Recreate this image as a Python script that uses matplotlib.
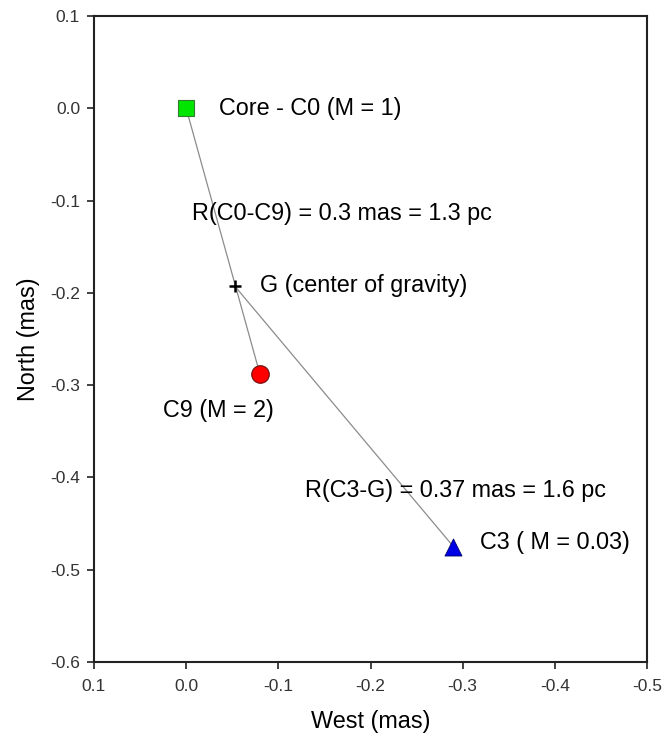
import matplotlib
matplotlib.use("Agg")
import matplotlib.pyplot as plt

plt.rcParams['font.family'] = ['Liberation Sans', 'DejaVu Sans']

# Data (mas)
core_x, core_y = [0.0], [0.0]
g_x, g_y = [-0.053], [-0.193]
c9_x, c9_y = [-0.080], [-0.288]
c3_x, c3_y = [-0.290], [-0.475]

xticks = [0.1, 0.0, -0.1, -0.2, -0.3, -0.4, -0.5]
yticks = [0.1, 0.0, -0.1, -0.2, -0.3, -0.4, -0.5, -0.6]

fig = plt.figure(figsize=(6.64, 7.33), dpi=100)
ax = fig.add_axes([94/664, 1-662/733, (647-94)/664, (662-16)/733])

# connecting lines
ax.plot([core_x[0], c9_x[0]], [core_y[0], c9_y[0]], color='#8c8c8c', lw=0.9, zorder=1)
ax.plot([g_x[0], c3_x[0]], [g_y[0], c3_y[0]], color='#8c8c8c', lw=0.9, zorder=1)

ax.scatter(core_x, core_y, marker='s', s=120, color='#00e600', edgecolors='#2f7f2f', linewidths=0.8, zorder=3)
ax.scatter(c9_x, c9_y, marker='o', s=160, color='#ff0000', edgecolors='#6b1010', linewidths=0.8, zorder=3)
ax.scatter(c3_x, c3_y, marker='^', s=150, color='#0000e6', edgecolors='#00006b', linewidths=0.6, zorder=3)
ax.scatter(g_x, g_y, marker='+', s=70, color='black', linewidths=1.8, zorder=3)

fs = 16.8
ax.text(-0.036, 0.0, 'Core - C0 (M = 1)', fontsize=fs, va='center', ha='left')
ax.text(-0.0065, -0.114, 'R(C0-C9) = 0.3 mas = 1.3 pc', fontsize=fs, va='center', ha='left')
ax.text(-0.080, -0.192, 'G (center of gravity)', fontsize=fs, va='center', ha='left')
ax.text(0.025, -0.328, 'C9 (M = 2)', fontsize=fs, va='center', ha='left')
ax.text(-0.129, -0.414, 'R(C3-G) = 0.37 mas = 1.6 pc', fontsize=fs, va='center', ha='left')
ax.text(-0.319, -0.470, 'C3 ( M = 0.03)', fontsize=fs, va='center', ha='left')

ax.set_xlim(0.1, -0.5)
ax.set_ylim(-0.6, 0.1)
ax.set_xticks(xticks)
ax.set_yticks(yticks)
ax.set_xticklabels([f'{v:.1f}' for v in xticks])
ax.set_yticklabels([f'{v:.1f}' for v in yticks])
ax.tick_params(direction='out', length=5, width=1.2, labelsize=12.5, colors='#222222', labelcolor='#333333')
ax.tick_params(axis='x', pad=7)
ax.tick_params(axis='y', pad=5)
for sp in ax.spines.values():
    sp.set_linewidth(1.5)
    sp.set_color('#222222')

ax.set_xlabel('West (mas)', fontsize=16.8, labelpad=12)
ax.set_ylabel('North (mas)', fontsize=16.8, labelpad=7)

fig.savefig('out.png', dpi=100)
